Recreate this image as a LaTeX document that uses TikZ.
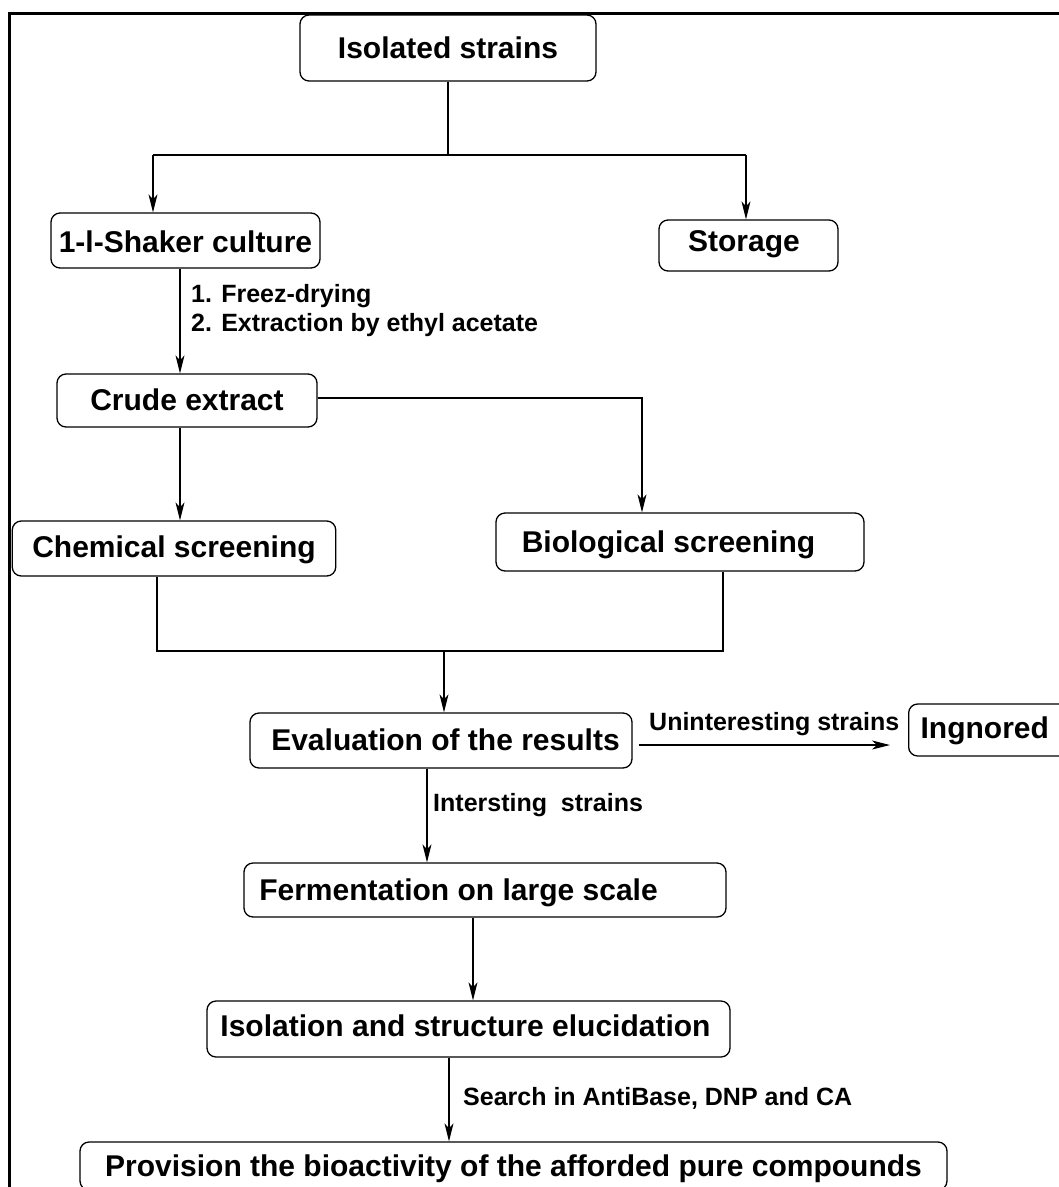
\documentclass[tikz,border=0pt]{standalone}
\usepackage{fontspec}
\setmainfont{Liberation Sans}
\usetikzlibrary{arrows.meta}
\begin{document}
\begin{tikzpicture}[x=1pt,y=-1pt,
  box/.style={draw, line width=1.3pt, rounded corners=9pt, inner sep=0pt,
    font=\bfseries\fontsize{30}{36}\selectfont, text height=20.6pt, text depth=0pt},
  lab/.style={font=\bfseries\fontsize{25}{30}\selectfont, inner sep=0pt, anchor=base west},
  conn/.style={line width=1.1pt},
  arr/.style={conn, -{Stealth[length=18pt,width=9pt,inset=5pt]}},
]
\useasboundingbox (0,0) rectangle (1059,1187);
\clip (0,0) rectangle (1059,1187);
\fill[white] (0,0) rectangle (1059,1187);
% outer frame
\draw[line width=2.7pt] (9.8,1200) -- (9.8,13.5) -- (1075,13.5);

% boxes
\node[box, minimum width=296pt, minimum height=66pt] (iso) at (448,48) {Isolated strains};
\node[box, minimum width=269pt, minimum height=55pt, text height=23.6pt] (shaker) at (185.5,240.5) {1-l-Shaker culture};
\node[box, minimum width=179pt, minimum height=51pt, text depth=9pt] (storage) at (748.5,245.5) {Storage\hspace*{9pt}};
\node[box, minimum width=260pt, minimum height=53pt] (crude) at (187,400.5) {Crude extract};
\node[box, minimum width=323.5pt, minimum height=55pt, text depth=3pt] (chem) at (174,548.5) {Chemical screening};
\node[box, minimum width=368pt, minimum height=58pt] (bio) at (680,542) {Biological screening\hspace*{23pt}};
\node[box, minimum width=382pt, minimum height=55pt] (eval) at (441,740.5) {\hspace*{9pt}Evaluation of the results};
\node[box, anchor=west, minimum height=52pt, inner xsep=12pt, text depth=4pt] (ign) at (908,730) {Ingnored\hspace*{60pt}};
\node[box, minimum width=482pt, minimum height=54pt] (ferm) at (485,890) {Fermentation on large scale\hspace*{53pt}};
\node[box, minimum width=523pt, minimum height=56pt, text depth=6pt] (isol) at (468.5,1029) {Isolation and structure elucidation\hspace*{6pt}};
\node[box, minimum width=867pt, minimum height=48pt] (prov) at (513.5,1166) {Provision the bioactivity of the afforded pure compounds};

% labels
\node[lab] (l1) at (191,302) {1. Freez-drying};
\node[lab] (l2) at (191,331) {2. Extraction by ethyl acetate};
\node[lab] (l3) at (649,730) {Uninteresting strains};
\node[lab] (l4) at (433,811) {Intersting\ \ strains};
\node[lab] (l5) at (463,1105) {Search in AntiBase, DNP and CA};

% junction coordinates
\coordinate (j1) at (448,155);
\coordinate (jl) at (153,155);
\coordinate (jr) at (746,155);
\coordinate (c1) at (180,300);
\coordinate (b1) at (642,398);
\coordinate (m1) at (157,651);
\coordinate (m2) at (723,651);
\coordinate (m3) at (444,651);
\coordinate (u) at (0,745);
\coordinate (e1) at (427,800);
\coordinate (f1) at (473,950);
\coordinate (s1) at (449,1100);

% connectors
\draw[conn] (iso.south) -- (j1);
\draw[conn] (jl) -- (jr);
\draw[arr] (jl) -- (jl |- shaker.north);
\draw[arr] (jr) -- (jr |- storage.north);
\draw[arr] (c1 |- shaker.south) -- (c1 |- crude.north);
\draw[arr] (crude.east |- b1) -- (b1) -- (b1 |- bio.north);
\draw[arr] (c1 |- crude.south) -- (c1 |- chem.north);
\draw[conn] (m1 |- chem.south) -- (m1) -- (m2) -- (m2 |- bio.south);
\draw[arr] (m3) -- (m3 |- eval.north);
\draw[arr, shorten <=6pt, shorten >=18pt] (eval.east |- u) -- (ign.west |- u);
\draw[arr] (e1 |- eval.south) -- (e1 |- ferm.north);
\draw[arr] (f1 |- ferm.south) -- (f1 |- isol.north);
\draw[arr] (s1 |- isol.south) -- (s1 |- prov.north);
\end{tikzpicture}
\end{document}
